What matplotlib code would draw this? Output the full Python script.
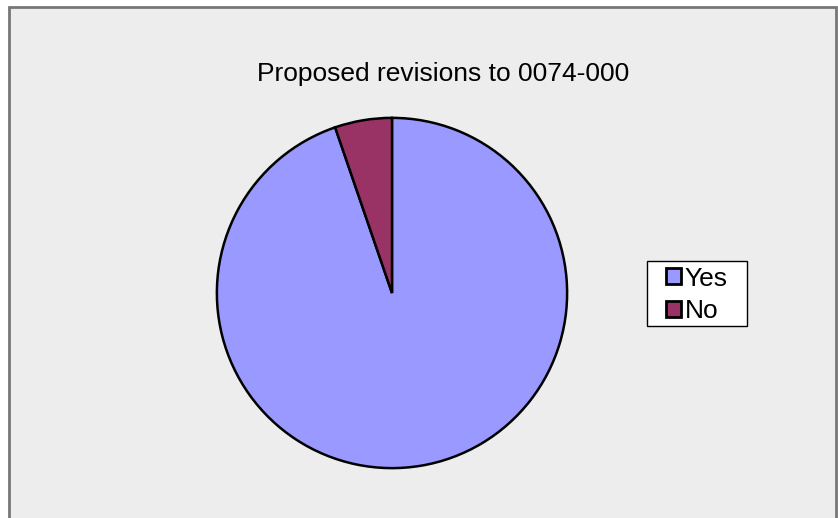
import matplotlib
matplotlib.use("Agg")
import matplotlib.pyplot as plt
from matplotlib.patches import Rectangle, Patch

plt.rcParams['font.family'] = ['Liberation Sans', 'DejaVu Sans']

labels = ["Yes", "No"]
counts = [18, 1]
colors = ["#9999FF", "#993366"]
title = "Proposed revisions to 0074-000"

W, H = 838, 518
fig = plt.figure(figsize=(W / 100, H / 100), dpi=100, facecolor="white")

# chart area panel with grey frame
fig.patches.append(Rectangle((8.5 / W, -0.05), (836 - 8.5) / W, (H - 6.5) / H + 0.05,
                             transform=fig.transFigure, facecolor="#EDEDED",
                             edgecolor="#777777", linewidth=2, zorder=-5))

cx, cy, r = 392, H - 293, 176
ax = fig.add_axes([(cx - r) / W, (cy - r) / H, 2 * r / W, 2 * r / H])
ax.set_zorder(2)
ax.pie(counts, colors=colors, startangle=90, counterclock=False, radius=1,
       wedgeprops=dict(edgecolor="black", linewidth=1.8))
ax.set_xlim(-1.005, 1.005)
ax.set_ylim(-1.005, 1.005)
ax.set_aspect("equal")
ax.axis("off")

fig.text(443 / W, 1 - 74 / H, title, ha="center", va="center", fontsize=19, color="black")

# legend box
fig.patches.append(Rectangle((646.5 / W, 1 - 325.5 / H), 100 / W, 65 / H,
                             transform=fig.transFigure, facecolor="white",
                             edgecolor="black", linewidth=1.0, zorder=1))
handles = [Patch(facecolor=c, edgecolor="black", linewidth=2.0) for c in colors]
leg = fig.legend(handles, labels, loc="center", bbox_to_anchor=(697 / W, 1 - 295 / H),
                 frameon=False, fontsize=19, handlelength=0.55,
                 handleheight=0.55, handletextpad=0.15, borderpad=0.2, labelspacing=0.33,
                 borderaxespad=0)
leg.set_zorder(3)

fig.savefig("out.png", dpi=100, facecolor="white")
